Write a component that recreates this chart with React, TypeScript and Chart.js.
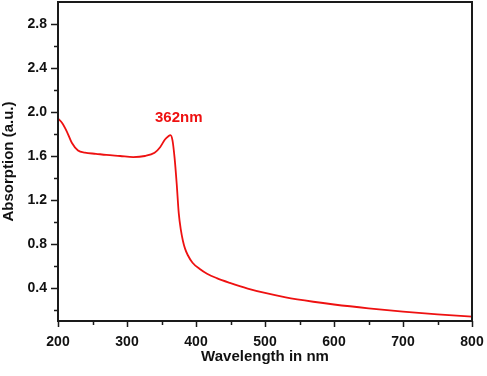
import React, { useEffect, useRef } from "react";
import { Chart, registerables } from "chart.js";

Chart.register(...registerables);

const wavelengths = [
  200, 206, 213, 220, 229, 239, 255, 270, 290, 309, 326, 340, 348, 355, 360, 363,
  366, 369, 372, 375, 378, 381, 384, 388, 395, 405, 416, 430, 449, 475, 500, 530, 570,
  600, 650, 700, 750, 800,
];
const absorption = [
  1.94, 1.9, 1.82, 1.72, 1.65, 1.63, 1.62, 1.61, 1.6, 1.59, 1.6, 1.63, 1.68, 1.75, 1.78, 1.79,
  1.74, 1.58, 1.35, 1.08, 0.93, 0.83, 0.76, 0.7, 0.63, 0.575, 0.53, 0.49, 0.447, 0.395, 0.355, 0.315, 0.275,
  0.25, 0.215, 0.185, 0.16, 0.14,
];
const yMajorTicks = [0.4, 0.8, 1.2, 1.6, 2.0, 2.4, 2.8];
const yMinorTicks = [0.2, 0.6, 1.0, 1.4, 1.8, 2.2, 2.6];
const xMajorTicks = [200, 300, 400, 500, 600, 700, 800];
const xMinorTicks = [250, 350, 450, 550, 650, 750];
const peakLabel = "362nm";
const peakLabelPos = { x: 375, y: 1.95 };

const RED = "#ee1111";
const AXIS = "#1a1a1a";
const FONT = "'Liberation Sans', Arial, sans-serif";

const framePlugin = {
  id: "frame",
  afterDraw(chart: any) {
    const { ctx, chartArea, scales } = chart;
    const xs = scales.x;
    const ys = scales.y;
    ctx.save();
    ctx.strokeStyle = AXIS;
    ctx.lineWidth = 2;
    ctx.strokeRect(chartArea.left, chartArea.top, chartArea.right - chartArea.left, chartArea.bottom - chartArea.top);
    ctx.lineWidth = 1.5;
    ctx.beginPath();
    yMajorTicks.forEach((v) => {
      const y = Math.round(ys.getPixelForValue(v)) + 0.5;
      ctx.moveTo(chartArea.left - 7, y);
      ctx.lineTo(chartArea.left, y);
    });
    yMinorTicks.forEach((v) => {
      const y = Math.round(ys.getPixelForValue(v)) + 0.5;
      ctx.moveTo(chartArea.left - 4, y);
      ctx.lineTo(chartArea.left, y);
    });
    xMajorTicks.forEach((v) => {
      const x = Math.round(xs.getPixelForValue(v)) + 0.5;
      ctx.moveTo(x, chartArea.bottom);
      ctx.lineTo(x, chartArea.bottom + 6);
    });
    xMinorTicks.forEach((v) => {
      const x = Math.round(xs.getPixelForValue(v)) + 0.5;
      ctx.moveTo(x, chartArea.bottom);
      ctx.lineTo(x, chartArea.bottom + 4);
    });
    ctx.stroke();
    ctx.fillStyle = RED;
    ctx.font = `bold 15px ${FONT}`;
    ctx.textAlign = "center";
    ctx.textBaseline = "middle";
    ctx.fillText(peakLabel, xs.getPixelForValue(peakLabelPos.x), ys.getPixelForValue(peakLabelPos.y));
    ctx.restore();
  },
};

export default function App() {
  const ref = useRef<HTMLCanvasElement>(null);
  useEffect(() => {
    if (!ref.current) return;
    const chart = new Chart(ref.current, {
      type: "line",
      data: {
        datasets: [
          {
            data: wavelengths.map((w, i) => ({ x: w, y: absorption[i] })),
            borderColor: RED,
            borderWidth: 1.8,
            pointRadius: 0,
            cubicInterpolationMode: "monotone",
            fill: false,
          },
        ],
      },
      plugins: [framePlugin],
      options: {
        animation: false,
        responsive: false,
        devicePixelRatio: 1,
        layout: { padding: { top: 2, right: 15, left: 0, bottom: 0 } },
        plugins: { legend: { display: false }, tooltip: { enabled: false } },
        scales: {
          x: {
            type: "linear",
            min: 200,
            max: 800,
            grid: { display: false, drawTicks: false },
            border: { display: false },
            afterBuildTicks: (s: any) => {
              s.ticks = xMajorTicks.map((v) => ({ value: v }));
            },
            afterFit: (s: any) => {
              s.height = 55;
              s.paddingLeft = 0;
              s.paddingRight = 0;
              s.paddingTop = 0;
              s.paddingBottom = 0;
            },
            ticks: {
              padding: 13,
              color: "#111",
              font: { family: FONT, size: 14, weight: "bold" },
              maxRotation: 0,
            },
            title: {
              display: true,
              text: "Wavelength in nm",
              color: "#111",
              font: { family: FONT, size: 15, weight: "bold" },
              padding: { top: 0, bottom: 10 },
            },
          },
          y: {
            type: "linear",
            min: 0.1,
            max: 3.0,
            grid: { display: false, drawTicks: false },
            border: { display: false },
            afterBuildTicks: (s: any) => {
              s.ticks = yMajorTicks.map((v) => ({ value: v }));
            },
            afterFit: (s: any) => {
              s.width = 58;
              s.paddingLeft = 0;
              s.paddingRight = 0;
              s.paddingTop = 0;
              s.paddingBottom = 0;
            },
            ticks: {
              padding: 11,
              color: "#111",
              font: { family: FONT, size: 14, weight: "bold" },
              callback: (v: any) => Number(v).toFixed(1),
            },
            title: {
              display: true,
              text: "Absorption (a.u.)",
              color: "#111",
              font: { family: FONT, size: 15, weight: "bold" },
              padding: { top: 0, bottom: 0 },
            },
          },
        },
      } as any,
    });
    return () => chart.destroy();
  }, []);
  return (
    <div style={{ position: "fixed", left: 0, top: 0, width: 487, height: 376, background: "#fff" }}>
      <canvas ref={ref} width={487} height={376} style={{ display: "block" }} />
    </div>
  );
}
